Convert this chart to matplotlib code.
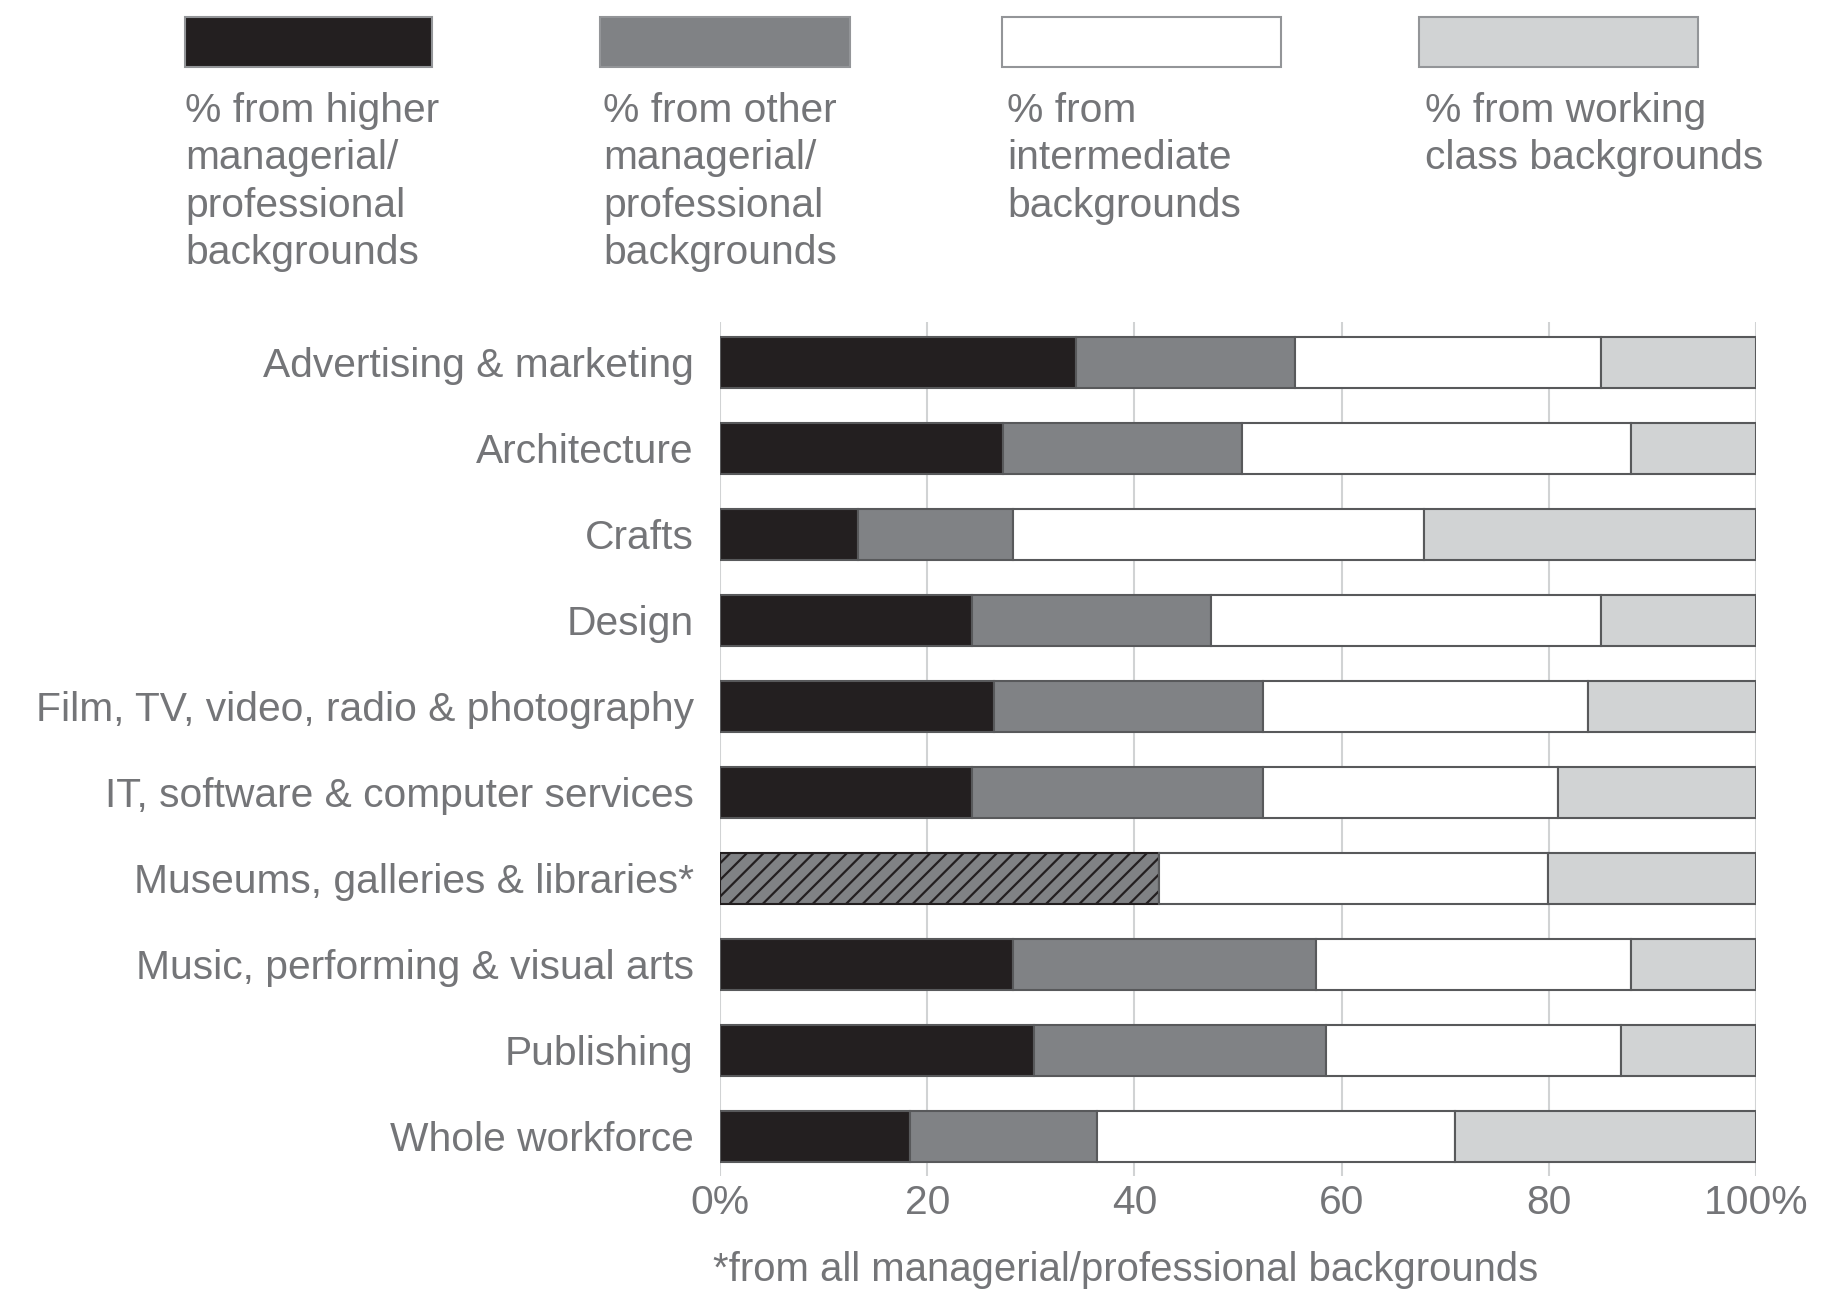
import matplotlib.pyplot as plt
from matplotlib.patches import Rectangle
import numpy as np

## data (percent of workforce in each sector)
sectors = ['Advertising & marketing', 'Architecture', 'Crafts', 'Design',
           'Film, TV, video, radio & photography', 'IT, software & computer services',
           'Museums, galleries & libraries*', 'Music, performing & visual arts',
           'Publishing', 'Whole workforce']
higher_mgr = [34.4, 27.3, 13.3, 24.3, 26.4, 24.3, 0.0, 28.3, 30.3, 18.3]
other_mgr = [21.1, 23.1, 15.0, 23.1, 26.0, 28.1, 0.0, 29.2, 28.2, 18.1]
# museums only report one figure for all managerial/professional backgrounds
all_mgr = [0.0, 0.0, 0.0, 0.0, 0.0, 0.0, 42.4, 0.0, 0.0, 0.0]
intermediate = [29.5, 37.5, 39.7, 37.6, 31.4, 28.5, 37.5, 30.4, 28.5, 34.5]
working = [15.0, 12.1, 32.0, 15.0, 16.2, 19.1, 20.1, 12.1, 13.0, 29.1]

x_ticks = [0, 20, 40, 60, 80, 100]
x_tick_labels = ['0%', '20', '40', '60', '80', '100%']

legend_labels = ['% from higher\nmanagerial/\nprofessional\nbackgrounds',
                 '% from other\nmanagerial/\nprofessional\nbackgrounds',
                 '% from\nintermediate\nbackgrounds',
                 '% from working\nclass backgrounds']

## style
colors = ['#231f20', '#808285', '#ffffff', '#d1d3d4']
edge = '#58595b'
text_col = '#747578'
font = 'Liberation Sans'
fsize = 29.3

plt.rcParams['font.family'] = [font, 'DejaVu Sans']
plt.rcParams['hatch.linewidth'] = 1.6

W, H = 1839, 1292
fig = plt.figure(figsize=(W / 100, H / 100), dpi=100)

def fx(px):
    return px / W

def fy(py):
    return 1 - py / H

ax = fig.add_axes([fx(720), fy(1176), fx(1756) - fx(720), fy(322) - fy(1176)])

y = np.arange(len(sectors))
h = 0.593
hi = np.array(higher_mgr)
ot = np.array(other_mgr)
al = np.array(all_mgr)
im = np.array(intermediate)
wk = np.array(working)

ax.barh(y, hi, height=h, color=colors[0], edgecolor=edge, linewidth=1.5, zorder=3)
ax.barh(y, ot, left=hi, height=h, color=colors[1], edgecolor=edge, linewidth=1.5, zorder=3)
mask = al > 0
ax.barh(y[mask], al[mask], height=h, color=colors[1], edgecolor='#231f20',
        hatch='//', linewidth=1.5, zorder=3)
left2 = hi + ot + al
ax.barh(y, im, left=left2, height=h, color=colors[2], edgecolor=edge, linewidth=1.5, zorder=3)
ax.barh(y, wk, left=left2 + im, height=h, color=colors[3], edgecolor=edge, linewidth=1.5, zorder=3)

ax.set_xlim(0, 100)
ax.set_ylim(len(sectors) - 1 + 0.46, -0.47)
ax.set_yticks(y)
ax.set_yticklabels(sectors, fontsize=fsize, color=text_col)
ax.set_xticks(x_ticks)
ax.set_xticklabels(x_tick_labels, fontsize=fsize, color=text_col)
ax.tick_params(axis='y', length=0, pad=19)
ax.tick_params(axis='x', length=0, pad=6)
for s in ax.spines.values():
    s.set_visible(False)
ax.grid(axis='x', color='#d1d3d4', linewidth=1.5, zorder=0)

# legend across the top
leg_x = [185, 600, 1002, 1419]
leg_w = [247, 250, 279, 279]
text_x = [185, 603, 1007, 1425]
for i in range(4):
    fig.patches.append(Rectangle((fx(leg_x[i]), fy(67)), fx(leg_w[i]), fy(17) - fy(67),
                                 transform=fig.transFigure, facecolor=colors[i],
                                 edgecolor='#939598', linewidth=1.5))
    fig.text(fx(text_x[i]), fy(92), legend_labels[i], ha='left', va='top',
             fontsize=fsize, color=text_col, linespacing=1.31)

fig.text(fx(713), fy(1270), '*from all managerial/professional backgrounds',
         ha='left', va='center', fontsize=28.9, color=text_col)

fig.savefig('out.png', dpi=100)
